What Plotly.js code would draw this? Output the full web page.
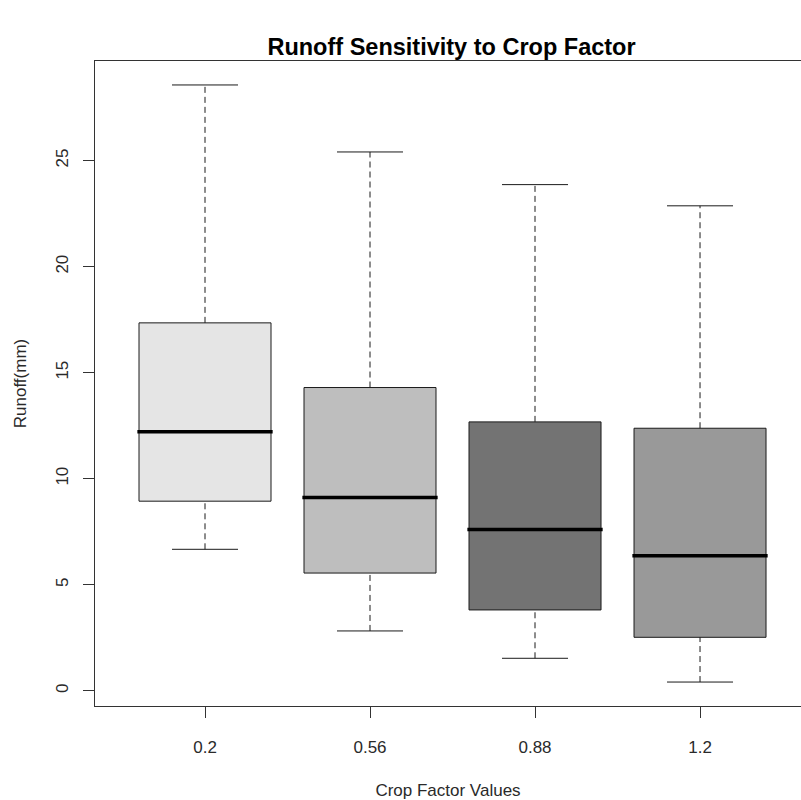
<!DOCTYPE html>
<html>
<head>
<meta charset="utf-8">
<script src="https://cdn.plot.ly/plotly-3.0.1.min.js"></script>
<style>
  html, body { margin: 0; padding: 0; background: #ffffff; }
  #chart { width: 801px; height: 800px; }
</style>
</head>
<body>
<div id="chart"></div>
<script>
// Crop factor groups and the five-number summary of runoff (mm) for each
const cropFactors = ['0.2', '0.56', '0.88', '1.2'];
const whiskerLow  = [6.67, 2.82, 1.53, 0.41];
const quartile1   = [8.94, 5.55, 3.81, 2.52];
const medians     = [12.21, 9.11, 7.60, 6.37];
const quartile3   = [17.35, 14.30, 12.68, 12.38];
const whiskerHigh = [28.57, 25.41, 23.87, 22.87];
const boxFills    = ['#e5e5e5', '#bebebe', '#737373', '#999999'];
const yTicks      = [0, 5, 10, 15, 20, 25];

const BOX_HALF = 0.4;    // half box width in category units
const CAP_HALF = 0.2;    // half staple width
const INK = '#1a1a1a';
const FONT = 'Liberation Sans, Arial, Helvetica, sans-serif';

const traces = [];
cropFactors.forEach((label, i) => {
  const xc = i + 1;
  // box body
  traces.push({
    type: 'scatter', mode: 'lines', hoverinfo: 'skip', showlegend: false,
    x: [xc - BOX_HALF, xc + BOX_HALF, xc + BOX_HALF, xc - BOX_HALF, xc - BOX_HALF],
    y: [quartile1[i], quartile1[i], quartile3[i], quartile3[i], quartile1[i]],
    fill: 'toself', fillcolor: boxFills[i],
    line: { color: INK, width: 1 }
  });
  // dashed whiskers
  traces.push({
    type: 'scatter', mode: 'lines', hoverinfo: 'skip', showlegend: false,
    x: [xc, xc, null, xc, xc],
    y: [quartile3[i], whiskerHigh[i], null, whiskerLow[i], quartile1[i]],
    line: { color: INK, width: 1, dash: '6px,4px' }
  });
  // whisker staples
  traces.push({
    type: 'scatter', mode: 'lines', hoverinfo: 'skip', showlegend: false,
    x: [xc - CAP_HALF, xc + CAP_HALF, null, xc - CAP_HALF, xc + CAP_HALF],
    y: [whiskerHigh[i], whiskerHigh[i], null, whiskerLow[i], whiskerLow[i]],
    line: { color: INK, width: 1 }
  });
  // median bar
  traces.push({
    type: 'scatter', mode: 'lines', hoverinfo: 'skip', showlegend: false,
    x: [xc - BOX_HALF - 0.01, xc + BOX_HALF + 0.01],
    y: [medians[i], medians[i]],
    line: { color: '#000000', width: 3.5 }
  });
});

const layout = {
  width: 801, height: 800,
  paper_bgcolor: '#ffffff', plot_bgcolor: '#ffffff',
  margin: { l: 95, r: 0, t: 61, b: 94 },
  showlegend: false,
  font: { family: FONT, color: '#2a2a2a', size: 17 },
  title: {
    text: '<b>Runoff Sensitivity to Crop Factor</b>',
    font: { family: FONT, size: 23.5, color: '#000000' },
    xref: 'paper', x: 0.505, xanchor: 'center',
    yref: 'container', y: 1 - 47 / 800, yanchor: 'middle'
  },
  xaxis: {
    range: [0.3333, 4.612],
    tickmode: 'array', tickvals: [1, 2, 3, 4], ticktext: cropFactors,
    ticks: 'outside', ticklen: 11, tickwidth: 1, tickcolor: '#333333',
    ticklabelstandoff: 15,
    showline: true, mirror: true, linecolor: '#333333', linewidth: 1,
    showgrid: false, zeroline: false,
    tickfont: { family: FONT, size: 17, color: '#2a2a2a' },
    title: { text: 'Crop Factor Values', standoff: 27, font: { family: FONT, size: 17, color: '#2a2a2a' } }
  },
  yaxis: {
    range: [-0.72, 29.70],
    tickmode: 'array', tickvals: yTicks, ticktext: yTicks.map(String),
    tickangle: -90,
    ticks: 'outside', ticklen: 11, tickwidth: 1, tickcolor: '#333333',
    ticklabelstandoff: 8,
    showline: true, mirror: true, linecolor: '#333333', linewidth: 1,
    showgrid: false, zeroline: false,
    tickfont: { family: FONT, size: 17, color: '#2a2a2a' },
    title: { text: 'Runoff(mm)', standoff: 22, font: { family: FONT, size: 17, color: '#2a2a2a' } }
  }
};

Plotly.newPlot('chart', traces, layout, { staticPlot: true, displayModeBar: false });
</script>
</body>
</html>
